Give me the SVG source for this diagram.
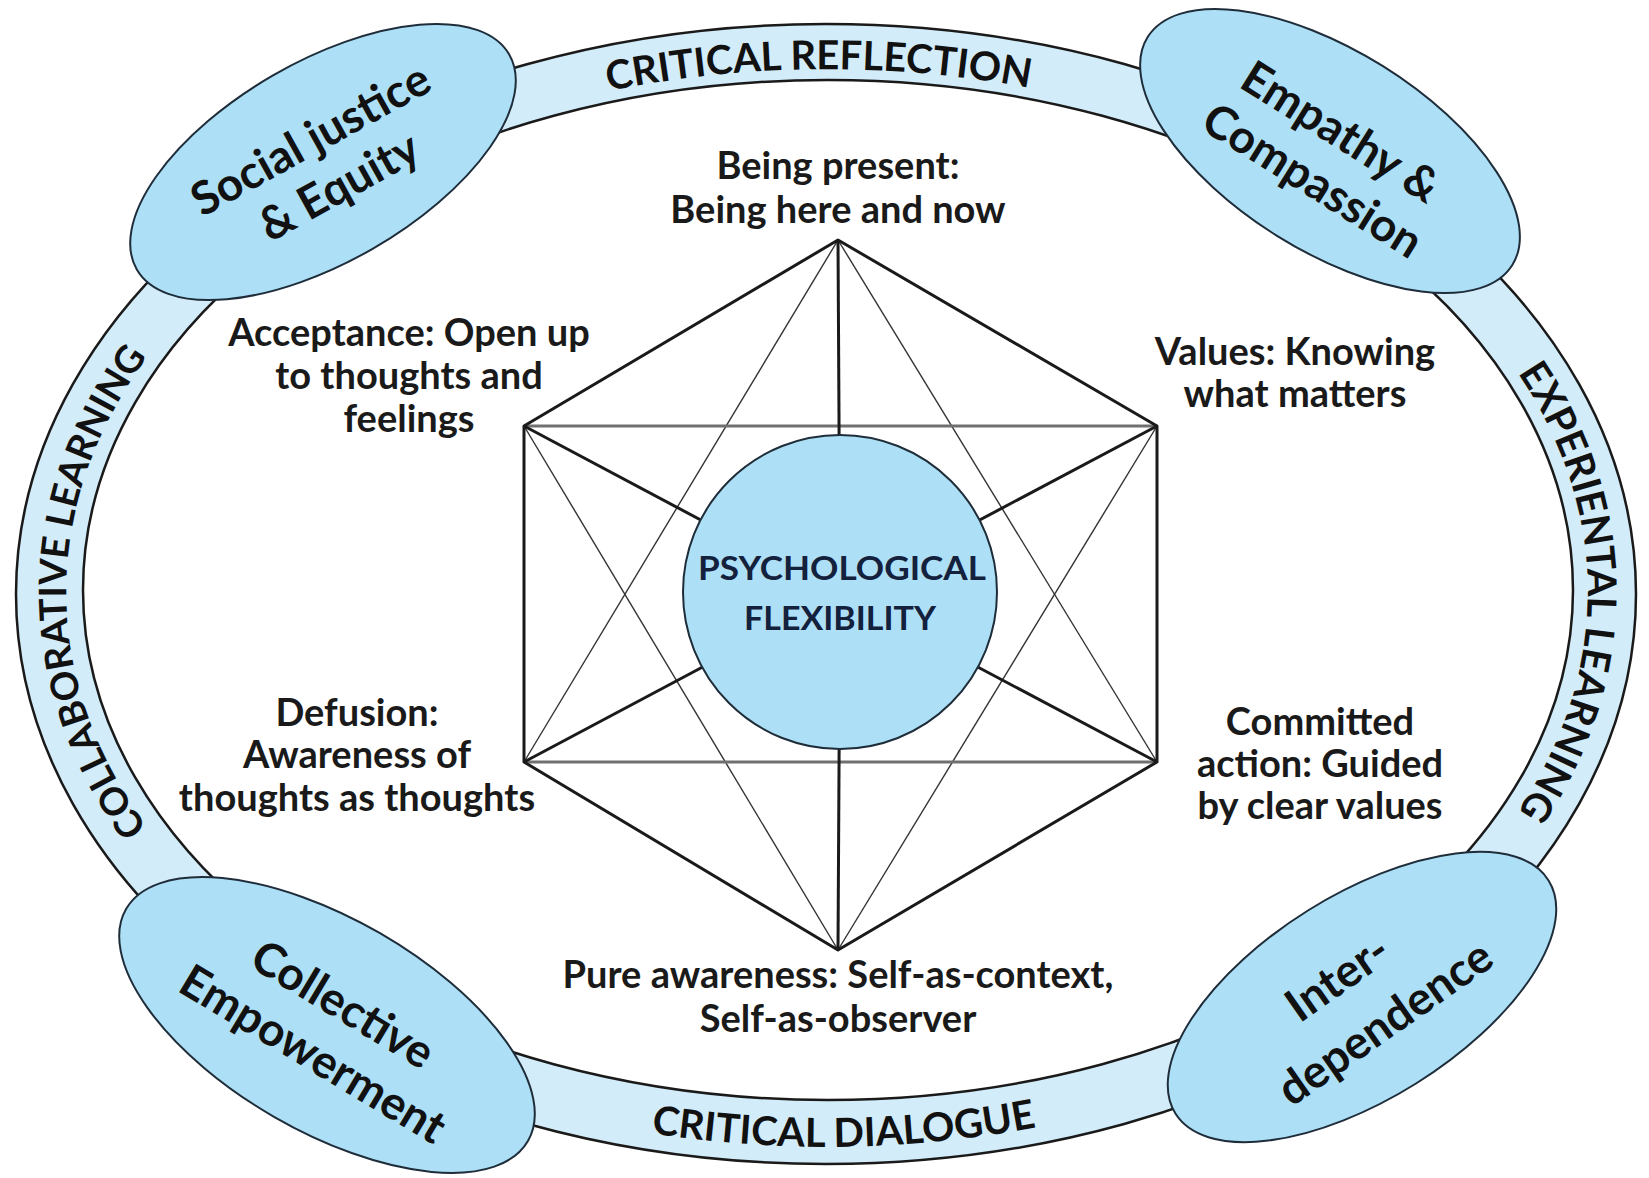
<svg xmlns="http://www.w3.org/2000/svg" width="1649" height="1178" viewBox="0 0 1649 1178">
<defs>
<style>
.band{fill:#d3ecf9;stroke:#1a1a1a;stroke-width:2.5;fill-rule:evenodd}
.node{fill:#ade0f6;stroke:#1f2d3a;stroke-width:2}
.bt{font-family:Lato,'Liberation Sans',sans-serif;font-weight:700;font-size:40px;fill:#111}
.nt{font-family:Lato,'Liberation Sans',sans-serif;font-weight:700;font-size:46px;fill:#111;text-anchor:middle}
.lbl{font-family:Lato,'Liberation Sans',sans-serif;font-weight:700;font-size:38px;fill:#1a1a1a;text-anchor:middle}
.ct{font-family:Lato,'Liberation Sans',sans-serif;font-weight:700;font-size:33px;fill:#14213d;text-anchor:middle}
.thick{stroke:#1a1a1a;stroke-width:3;fill:none;stroke-linejoin:round}
.thin{stroke:#333;stroke-width:1.4;fill:none}
.base{stroke:#707070;stroke-width:3;fill:none}
</style>
<path id="pTop" d="M 66 592 A 761 523 0 0 1 1588 592"/>
<path id="pLeft" d="M 827 1115 A 761 523 0 0 1 827 69"/>
<path id="pRight" d="M 827 69 A 761 523 0 0 1 827 1115"/>
<path id="pBottom" d="M 32 592 A 795 555 0 0 0 1622 592"/>
</defs>
<rect width="1649" height="1178" fill="#fff"/>

<g id="ring">
<path class="band" d="M 16 594 A 810 570 0 1 1 1636 594 A 810 570 0 1 1 16 594 Z M 83 590 A 745 510 0 1 0 1573 590 A 745 510 0 1 0 83 590 Z"/>
<text class="bt"><textPath href="#pTop" startOffset="49.6%" text-anchor="middle">CRITICAL REFLECTION</textPath></text>
<text class="bt" style="font-size:38px"><textPath href="#pLeft" startOffset="50%" text-anchor="middle">COLLABORATIVE LEARNING</textPath></text>
<text class="bt"><textPath href="#pRight" startOffset="50%" text-anchor="middle">EXPERIENTAL LEARNING</textPath></text>
<text class="bt"><textPath href="#pBottom" startOffset="50.8%" text-anchor="middle">CRITICAL DIALOGUE</textPath></text>
</g>

<g id="connectors">
<line class="thin" x1="838" y1="240" x2="524" y2="762"/>
<line class="thin" x1="838" y1="240" x2="1157" y2="762"/>
<line class="thin" x1="838" y1="950" x2="524" y2="426"/>
<line class="thin" x1="838" y1="950" x2="1157" y2="426"/>
<line class="base" x1="524" y1="426" x2="1157" y2="426"/>
<line class="base" x1="524" y1="762" x2="1157" y2="762"/>
<polygon class="thick" points="838,240 1157,426 1157,762 838,950 524,762 524,426"/>
<line class="thick" x1="838" y1="240" x2="840" y2="594"/>
<line class="thick" x1="838" y1="950" x2="840" y2="594"/>
<line class="thick" x1="524" y1="426" x2="840" y2="594"/>
<line class="thick" x1="1157" y1="426" x2="840" y2="594"/>
<line class="thick" x1="524" y1="762" x2="840" y2="594"/>
<line class="thick" x1="1157" y1="762" x2="840" y2="594"/>
</g>

<g id="center">
<circle class="node" cx="840" cy="592" r="157" stroke-width="2.5"/>
<text class="ct" x="842" y="580" textLength="288" lengthAdjust="spacingAndGlyphs">PSYCHOLOGICAL</text>
<text class="ct" x="840" y="630" textLength="192" lengthAdjust="spacingAndGlyphs">FLEXIBILITY</text>
</g>

<g id="node-social">
<ellipse class="node" cx="323" cy="162" rx="215" ry="100" transform="rotate(-30 323 162)"/>
<g transform="translate(323,162) rotate(-29)">
<text class="nt" x="0" y="-10">Social justice</text>
<text class="nt" x="2" y="45">&amp; Equity</text>
</g>
</g>

<g id="node-empathy">
<ellipse class="node" cx="1330" cy="151" rx="215" ry="100" transform="rotate(32 1330 151)"/>
<g transform="translate(1330,151) rotate(32)">
<text class="nt" x="-1" y="-6">Empathy &amp;</text>
<text class="nt" x="1" y="50">Compassion</text>
</g>
</g>

<g id="node-collective">
<ellipse class="node" cx="327" cy="1025" rx="232" ry="106" transform="rotate(30 327 1025)"/>
<g transform="translate(327,1025) rotate(31)">
<text class="nt" x="3" y="-10">Collective</text>
<text class="nt" x="3" y="48">Empowerment</text>
</g>
</g>

<g id="node-inter">
<ellipse class="node" cx="1362" cy="997" rx="220" ry="102" transform="rotate(-32 1362 997)"/>
<g transform="translate(1362,997) rotate(-35)">
<text class="nt" x="-9" y="-14">Inter-</text>
<text class="nt" x="4" y="50">dependence</text>
</g>
</g>

<g id="label-present">
<text class="lbl" x="838" y="179">Being present:</text>
<text class="lbl" x="838" y="223">Being here and now</text>
</g>
<g id="label-acceptance">
<text class="lbl" x="409" y="346">Acceptance: Open up</text>
<text class="lbl" x="409" y="389">to thoughts and</text>
<text class="lbl" x="409" y="432">feelings</text>
</g>
<g id="label-values">
<text class="lbl" x="1295" y="365">Values: Knowing</text>
<text class="lbl" x="1295" y="407">what matters</text>
</g>
<g id="label-defusion">
<text class="lbl" x="357" y="726">Defusion:</text>
<text class="lbl" x="357" y="768">Awareness of</text>
<text class="lbl" x="357" y="811">thoughts as thoughts</text>
</g>
<g id="label-committed">
<text class="lbl" x="1320" y="735">Committed</text>
<text class="lbl" x="1320" y="777">action: Guided</text>
<text class="lbl" x="1320" y="819">by clear values</text>
</g>
<g id="label-pure">
<text class="lbl" x="838" y="988">Pure awareness: Self-as-context,</text>
<text class="lbl" x="838" y="1032">Self-as-observer</text>
</g>
</svg>
